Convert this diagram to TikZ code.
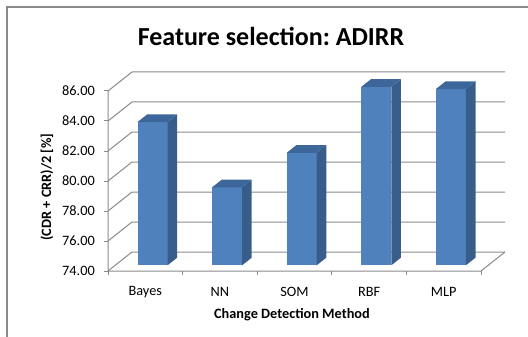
\documentclass[tikz,border=0pt]{standalone}
\usepackage{fontspec}
\setmainfont{Carlito}
\frenchspacing
\usetikzlibrary{positioning}
\definecolor{barfront}{HTML}{4F81BD}
\definecolor{barside}{HTML}{385D8A}
\definecolor{bartop}{HTML}{3D679A}
\definecolor{gridgray}{HTML}{8A8A8A}
\tikzset{
  grid line/.style={draw=gridgray, line width=1pt},
  tick label/.style={font=\fontsize{14.3}{17}\selectfont, anchor=east, inner sep=0pt},
  cat label/.style={font=\fontsize{14.3}{17}\selectfont, inner sep=0pt},
  axis title/.style={font=\bfseries\fontsize{14.3}{17}\selectfont, inner sep=0pt},
}

\begin{document}
\begin{tikzpicture}[x=1pt,y=-1pt]
    \useasboundingbox (0,0) rectangle (528,337);
    % frame of the chart
    \draw[gridgray, line width=1.5pt] (7,337) -- (7,7) -- (528,7);
    \node[font=\bfseries\fontsize{26}{30}\selectfont] (title) at (271,36) {Feature selection: ADIRR};
    % walls and grid
    \foreach \v in {74,76,...,86} {
        \draw[grid line] (108,{271-(\v-74)*15}) -- ++(24,-19) -- ++(373,0);
        \draw[grid line] (104,{271-(\v-74)*15}) -- (108,{271-(\v-74)*15});
        \node[tick label] (y\v) at (95,{271-(\v-74)*15}) {\v.00};
    }
    \draw[grid line] (108,91) -- (108,271) -- (481,271) -- ++(24,-19);
    \foreach \k in {0,...,5}
        \draw[grid line] ({108+\k*74.6},271) -- ++(0,4);
    % bars
    \foreach \name/\val [count=\k from 0] in {Bayes/83.55, NN/79.2, SOM/81.5, RBF/85.9, MLP/85.75} {
        \pgfmathsetmacro\xl{108+(\k+0.5)*74.6+7.2-15}
        \pgfmathsetmacro\yt{265.3-(\val-74)*15}
        \fill[barfront] (\xl,265.3) rectangle ({\xl+30},\yt);
        \fill[barside] ({\xl+30},265.3) -- ++(9.6,-7.6) -- ({\xl+39.6},{\yt-7.6}) -- ({\xl+30},\yt) -- cycle;
        \fill[bartop] (\xl,\yt) -- ++(9.6,-7.6) -- ++(30,0) -- ({\xl+30},\yt) -- cycle;
        \node[cat label] (c\k) at ({108+(\k+0.5)*74.6},292) {\name};
    }
    \node[axis title] (xtitle) at (292,315) {Change Detection Method};
    \node[axis title, rotate=90] (ytitle) at (47,187) {(CDR + CRR)/2 [\%]};
\end{tikzpicture}
\end{document}
